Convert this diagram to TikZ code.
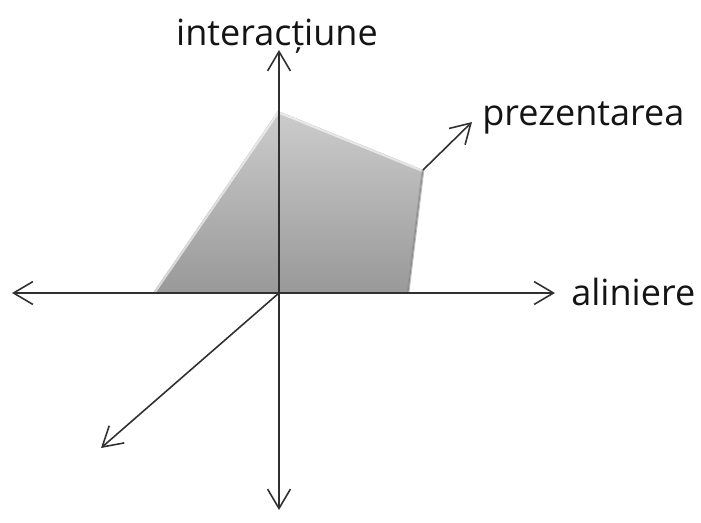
\documentclass[tikz,border=0pt]{standalone}
\usepackage{fontspec}
\setmainfont{Open Sans}
\usetikzlibrary{arrows.meta,positioning}
\definecolor{axisgray}{HTML}{303030}
\tikzset{
  axis/.style={
    draw = axisgray,
    line width = 0.9pt,
    -{Straight Barb[length=11pt,width=13pt,line width=0.9pt]}
  },
  lbl/.style={
    inner sep = 0pt,
    text = black!92,
    font = \fontsize{20.5}{24}\selectfont
  },
  face/.style={
    top color = black!20,
    bottom color = black!40,
    draw = none
  },
}

\begin{document}
\begin{tikzpicture}[x=0.02cm,y=-0.02cm]
  \useasboundingbox (0,0) rectangle (701,522);
  % axes meet here
  \coordinate (O) at (279,293);
  \coordinate (xl) at (12,293);
  \coordinate (xr) at (555,293);
  \coordinate (yt) at (279,50);
  \coordinate (yb) at (279,510);
  \coordinate (zb) at (101,448);
  % the shaded face
  \coordinate (a) at (153,293);
  \coordinate (b) at (278,111);
  \coordinate (c) at (423,170);
  \coordinate (d) at (408,293);
  \coordinate (ct) at (472,122);
  \fill[face] (a) -- (b) -- (c) -- (d) -- cycle;
  \draw[white, line width=2.5pt, opacity=0.6, line join=round] (a) -- (b) -- (c);
  \draw[black!45, line width=1.5pt, opacity=0.6] (c) -- (d);

  \draw[axis] (O) -- (xl);
  \draw[axis] (O) -- (xr);
  \draw[axis] (O) -- (yt);
  \draw[axis] (O) -- (yb);
  \draw[axis] (O) -- (zb);
  \draw[axis] (c) -- (ct);

  \node[lbl, anchor=base] (inter) at (277,45) {interacțiune};
  \node[lbl, anchor=base west] (prez) at (482,125) {prezentarea};
  \node[lbl, anchor=base west] (alin) at (571,305) {aliniere};
\end{tikzpicture}
\end{document}
